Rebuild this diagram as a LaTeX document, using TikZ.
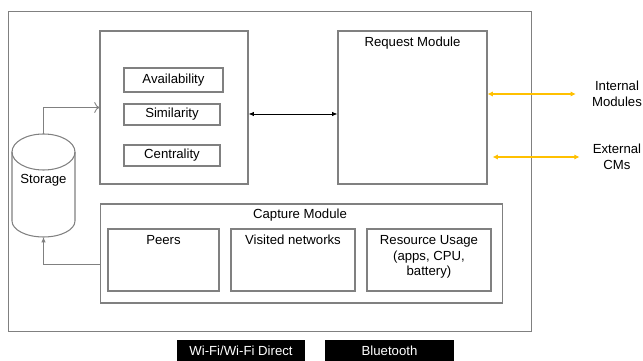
\documentclass[tikz,border=0pt]{standalone}
\usepackage{fontspec}
\setmainfont{Liberation Sans}
\usepackage{xcolor}
\usetikzlibrary{positioning,arrows.meta}

\definecolor{linkgold}{HTML}{FFC000}

\begin{document}
\begin{tikzpicture}[x=0.02cm, y=-0.02cm, every node/.append style={font=\fontsize{7.5}{9}\selectfont},
    box/.style={draw=gray, line width=0.6pt, inner sep=0pt},
    metric/.style={box, minimum width=1.92cm, minimum height=0.42cm},
    sensor/.style={box, minimum width=2.48cm, minimum height=1.24cm},
    radio/.style={fill=black, text=white, inner sep=0pt, minimum height=0.44cm},
    link/.style={draw=gray, line width=0.5pt},
    gold/.style={draw=linkgold, line width=0.6pt, {Latex[length=3pt,width=3pt]}-{Latex[length=3pt,width=3pt]}}]
    \useasboundingbox (0,0) rectangle (643,361);

    % frames
    \node[box, minimum width=10.48cm, minimum height=6.42cm] (outer) at (270,171.5) {};
    \node[box, minimum width=2.96cm, minimum height=3.06cm] (score) at (174,107.5) {};
    \node[box, minimum width=2.98cm, minimum height=3.06cm] (request) at (412.5,107.5) {};
    \node[box, minimum width=8.06cm, minimum height=1.98cm] (capture) at (301.5,253.5) {};

    % metrics
    \node[metric, minimum width=1.98cm, minimum height=0.48cm] (avail) at (173.5,80) {Availability};
    \node[metric] (simil) at (172,114.5) {Similarity};
    \node[metric] (centr) at (172,155.5) {Centrality};

    % capture parts
    \node[sensor, minimum width=2.22cm] (peers) at (163.5,260) {};
    \node[sensor] (visited) at (293,260) {};
    \node[sensor] (resource) at (429,260) {};

    \node (reqlabel) at (412.5,43) {Request Module};
    \node (caplabel) at (300,215) {Capture Module};
    \node (peerlabel) at (163.5,240) {Peers};
    \node (vislabel) at (293,240) {Visited networks};
    \node[align=center] (reslabel) at (429,257) {Resource Usage\\(apps, CPU,\\battery)};

    % storage
    \draw[box] (12,152) -- (12,221) arc[start angle=180, end angle=0, x radius=31.5, y radius=16]
        -- (75,152) arc[start angle=0, end angle=-180, x radius=31.5, y radius=18] -- cycle;
    \draw[box] (12,152) arc[start angle=180, end angle=0, x radius=31.5, y radius=18];
    \coordinate (stortop) at (43.5,134);
    \coordinate (storbot) at (43.5,237);
    \node (storlabel) at (43.5,180) {Storage};

    % outside
    \node[align=center] (internal) at (617,94) {Internal\\Modules};
    \node[align=center] (external) at (617,157) {External\\CMs};
    \node[radio, minimum width=2.56cm] (wifi) at (241,351) {Wi-Fi/Wi-Fi Direct};
    \node[radio, minimum width=2.58cm] (bt) at (389.5,351) {Bluetooth};

    \coordinate (capout) at (100,264);

    \draw[link, -{To[length=3pt]}] (stortop) |- (score.west);
    \draw[link, -{Latex[length=3pt,width=2.5pt]}] (capout) -| (storbot);
    \draw[line width=0.5pt, {Latex[length=3pt,width=2.5pt]}-{Latex[length=3pt,width=2.5pt]}] ([yshift=-0.13cm]score.east) -- ([yshift=-0.13cm]request.west);
    \draw[gold] (request.east |- internal) -- ([xshift=-0.2cm]internal.west |- internal);
    \draw[gold] ([xshift=0.1cm]request.east |- external) -- ([xshift=-0.14cm]external.west);
\end{tikzpicture}
\end{document}
